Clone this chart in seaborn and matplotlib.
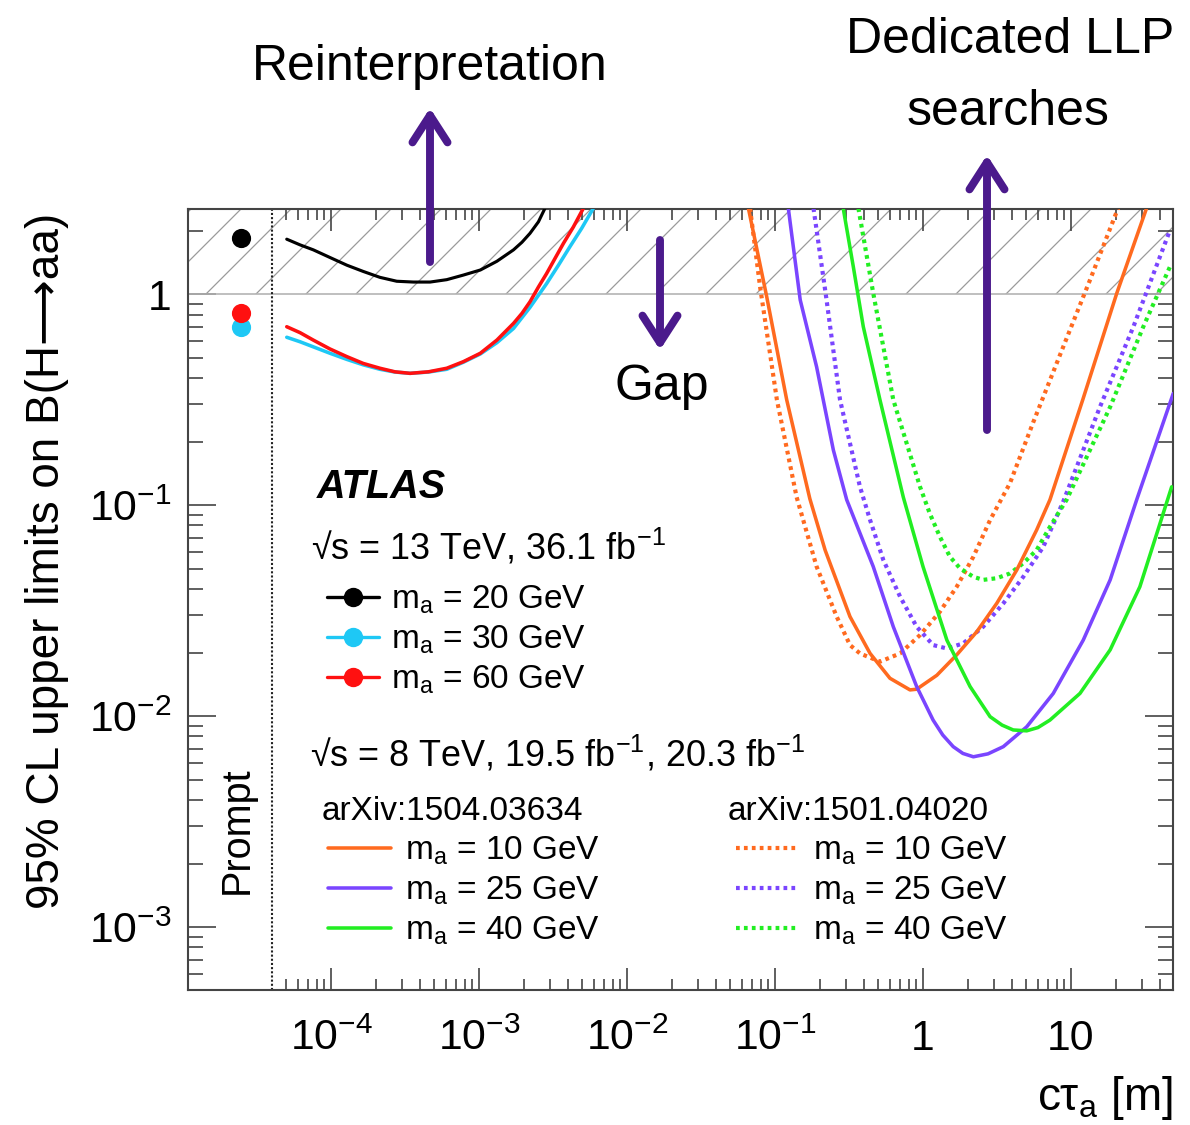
import matplotlib
matplotlib.use("Agg")
import matplotlib.pyplot as plt
import seaborn as sns
from matplotlib.lines import Line2D
from matplotlib.patches import FancyArrowPatch
from matplotlib.ticker import FixedLocator, FixedFormatter, NullFormatter
from matplotlib.transforms import blended_transform_factory

# ---------------- data ----------------
# prompt-search points (13 TeV)
prompt_x = 2.47e-5
prompt_20 = 1.85
prompt_30 = 0.70
prompt_60 = 0.81

# 13 TeV reinterpretation curves
ct_20 = [5.02e-5, 6.18e-5, 7.59e-5, 9.84e-5, 1.28e-4, 1.65e-4, 2.14e-4, 2.78e-4, 3.60e-4, 4.67e-4,
         6.05e-4, 7.83e-4, 1.02e-3, 1.32e-3, 1.71e-3, 1.95e-3, 2.21e-3, 2.52e-3, 2.79e-3]
lim_20 = [1.82, 1.71, 1.62, 1.49, 1.37, 1.28, 1.20, 1.15, 1.14, 1.14,
          1.17, 1.23, 1.30, 1.43, 1.62, 1.76, 1.94, 2.20, 2.55]

ct_30 = [5.02e-5, 6.18e-5, 7.59e-5, 9.84e-5, 1.28e-4, 1.65e-4, 2.14e-4, 2.70e-4, 3.42e-4, 4.55e-4,
         6.05e-4, 7.83e-4, 1.02e-3, 1.32e-3, 1.71e-3, 2.21e-3, 2.86e-3, 3.44e-3, 4.12e-3, 4.94e-3, 5.92e-3]
lim_30 = [0.624, 0.594, 0.562, 0.524, 0.490, 0.462, 0.440, 0.427, 0.421, 0.427,
          0.440, 0.475, 0.520, 0.588, 0.687, 0.865, 1.12, 1.37, 1.68, 2.05, 2.55]

ct_60 = [5.02e-5, 6.18e-5, 7.59e-5, 9.84e-5, 1.28e-4, 1.65e-4, 2.14e-4, 2.70e-4, 3.42e-4, 4.55e-4,
         6.05e-4, 7.83e-4, 1.02e-3, 1.32e-3, 1.71e-3, 1.95e-3, 2.21e-3, 2.52e-3, 2.86e-3, 3.27e-3,
         3.72e-3, 4.34e-3, 5.07e-3]
lim_60 = [0.700, 0.656, 0.605, 0.549, 0.505, 0.469, 0.445, 0.428, 0.421, 0.428,
          0.445, 0.478, 0.524, 0.605, 0.726, 0.810, 0.919, 1.08, 1.25, 1.48,
          1.74, 2.08, 2.55]

# 8 TeV, arXiv:1504.03634 (solid)
ct_10_s = [0.0661, 0.0879, 0.120, 0.172, 0.218, 0.321, 0.439, 0.598, 0.817, 0.906, 1.24, 1.69,
           2.31, 3.15, 4.30, 5.86, 7.21, 12.0, 20.4, 32.4]
lim_10_s = [2.55, 0.971, 0.315, 0.107, 0.0612, 0.0296, 0.0198, 0.0151, 0.0133, 0.0134, 0.0156, 0.0195,
            0.0251, 0.0342, 0.0492, 0.0762, 0.106, 0.315, 1.01, 2.55]

ct_25_s = [0.123, 0.148, 0.191, 0.248, 0.305, 0.461, 0.630, 0.906, 1.17, 1.36, 1.60, 1.86, 2.19, 2.75,
           3.49, 5.02, 7.59, 12.1, 18.4, 27.8, 49.1]
lim_25_s = [2.55, 0.938, 0.452, 0.182, 0.106, 0.0511, 0.0265, 0.0138, 0.00957, 0.00813, 0.00716, 0.00665,
            0.00641, 0.00662, 0.00716, 0.00889, 0.0128, 0.0229, 0.0442, 0.106, 0.338]

ct_40_s = [0.289, 0.338, 0.395, 0.512, 0.736, 1.00, 1.45, 2.08, 2.84, 3.42, 4.07, 5.02, 5.98, 7.21,
           11.5, 18.4, 29.2, 47.9]
lim_40_s = [2.55, 1.35, 0.700, 0.315, 0.109, 0.0511, 0.0229, 0.0138, 0.00993, 0.00906, 0.00859, 0.00851,
            0.00882, 0.00957, 0.0128, 0.0206, 0.0410, 0.122]

# 8 TeV, arXiv:1501.04020 (dotted)
ct_10_d = [0.0678, 0.0793, 0.103, 0.140, 0.191, 0.261, 0.321, 0.375, 0.512, 0.700, 0.955, 1.30,
           1.69, 2.19, 2.84, 3.87, 5.56, 9.35, 13.4, 20.8]
lim_10_d = [2.55, 1.08, 0.315, 0.109, 0.0511, 0.0296, 0.0217, 0.0198, 0.0181, 0.0198, 0.0242, 0.0312,
            0.0410, 0.0569, 0.0849, 0.127, 0.247, 0.618, 1.16, 2.55]

ct_25_d = [0.182, 0.223, 0.275, 0.375, 0.439, 0.540, 0.700, 0.906, 1.17, 1.45, 1.87, 2.55,
           3.49, 4.76, 6.50, 8.87, 15.7, 26.4, 46.7]
lim_25_d = [2.55, 0.938, 0.315, 0.122, 0.0849, 0.0548, 0.0368, 0.0265, 0.0217, 0.0209, 0.0221, 0.0265,
            0.0342, 0.0457, 0.0634, 0.104, 0.292, 0.700, 2.01]

ct_40_d = [0.366, 0.461, 0.630, 0.955, 1.11, 1.30, 1.52, 1.78, 2.19, 2.55, 3.15, 3.87,
           4.76, 5.86, 7.21, 9.35, 18.4, 30.8, 46.7]
lim_40_d = [2.55, 1.01, 0.315, 0.122, 0.0914, 0.0708, 0.0569, 0.0501, 0.0457, 0.0442, 0.0450, 0.0474,
            0.0530, 0.0612, 0.0789, 0.106, 0.292, 0.700, 1.35]

excluded_above = 1.0       # hatched band: B > 1
prompt_boundary = 4e-5     # dotted vertical line

x_ticks = [1e-4, 1e-3, 1e-2, 1e-1, 1, 10]
x_tick_labels = ["$10^{-4}$", "$10^{-3}$", "$10^{-2}$", "$10^{-1}$", "1", "10"]
y_ticks = [1e-3, 1e-2, 1e-1, 1]
y_tick_labels = ["$10^{-3}$", "$10^{-2}$", "$10^{-1}$", "1"]

labels_13 = ["m$_\\mathrm{a}$ = 20 GeV", "m$_\\mathrm{a}$ = 30 GeV", "m$_\\mathrm{a}$ = 60 GeV"]
labels_8 = ["m$_\\mathrm{a}$ = 10 GeV", "m$_\\mathrm{a}$ = 25 GeV", "m$_\\mathrm{a}$ = 40 GeV"]

# ---------------- style ----------------
sns.set_style("ticks")
plt.rcParams["font.family"] = ["Liberation Sans", "DejaVu Sans"]
plt.rcParams["mathtext.fontset"] = "custom"
plt.rcParams["mathtext.rm"] = "Liberation Sans"
plt.rcParams["mathtext.it"] = "Liberation Sans:italic"
plt.rcParams["mathtext.bf"] = "Liberation Sans:bold"
plt.rcParams["hatch.linewidth"] = 0.6
plt.rcParams["hatch.color"] = "#9a9a9a"
plt.rcParams["axes.edgecolor"] = "#444444"
plt.rcParams["axes.linewidth"] = 1.0
plt.rcParams["text.color"] = "black"
plt.rcParams["axes.labelcolor"] = "black"
plt.rcParams["xtick.labelcolor"] = "black"
plt.rcParams["ytick.labelcolor"] = "black"

BLACK = "#000000"
CYAN = "#1ec8f5"
RED = "#ff1010"
ORANGE = "#ff6a1f"
PURPLE = "#7a45ff"
GREEN = "#22ee22"
ARROW = "#4b1a8c"
DOT = (0, (0.9, 1.0))

DPI = 150
fig = plt.figure(figsize=(1190 / DPI, 1125 / DPI), dpi=DPI)
ax = fig.add_axes([188 / 1190, 1 - 990 / 1125, 985 / 1190, 781 / 1125])
ax.set_xscale("log")
ax.set_yscale("log")
ax.set_xlim(1.08e-5, 48.9)
ax.set_ylim(5.03e-4, 2.53)

# hatched excluded region
ax.axhspan(excluded_above, 10, facecolor="none", edgecolor="#9a9a9a", hatch="/", lw=0, zorder=0.5)
ax.axhline(excluded_above, color="#b4b4b4", lw=0.8, zorder=0.6)
ax.axvline(prompt_boundary, color="#222222", lw=1.0, linestyle=(0, (1, 1)), zorder=1)

curves = [
    (ct_20, lim_20, BLACK, "-", 1.5),
    (ct_30, lim_30, CYAN, "-", 1.7),
    (ct_60, lim_60, RED, "-", 1.7),
    (ct_10_d, lim_10_d, ORANGE, DOT, 2.0),
    (ct_25_d, lim_25_d, PURPLE, DOT, 2.0),
    (ct_40_d, lim_40_d, GREEN, DOT, 2.0),
    (ct_10_s, lim_10_s, ORANGE, "-", 1.7),
    (ct_25_s, lim_25_s, PURPLE, "-", 1.7),
    (ct_40_s, lim_40_s, GREEN, "-", 1.7),
]
for xs, ys, col, ls, lw in curves:
    sns.lineplot(x=xs, y=ys, ax=ax, color=col, linestyle=ls, lw=lw,
                 sort=False, estimator=None, legend=False, zorder=3)

for yv, col in [(prompt_20, BLACK), (prompt_30, CYAN), (prompt_60, RED)]:
    sns.scatterplot(x=[prompt_x], y=[yv], ax=ax, color=col, s=85, linewidth=0,
                    legend=False, zorder=4)

# ---------------- axes ----------------
minor_x = [k * 1e-5 for k in range(5, 10)] + [k * 10.0 ** d for d in range(-4, 2) for k in range(2, 10)]
minor_x = [v for v in minor_x if v < 48.9]
minor_y = [k * 10.0 ** d for d in range(-4, 1) for k in range(2, 10)]
minor_y = [v for v in minor_y if 5.03e-4 < v < 2.53]
ax.xaxis.set_major_locator(FixedLocator(x_ticks))
ax.xaxis.set_major_formatter(FixedFormatter(x_tick_labels))
ax.xaxis.set_minor_locator(FixedLocator(minor_x))
ax.xaxis.set_minor_formatter(NullFormatter())
ax.yaxis.set_major_locator(FixedLocator(y_ticks))
ax.yaxis.set_major_formatter(FixedFormatter(y_tick_labels))
ax.yaxis.set_minor_locator(FixedLocator(minor_y))
ax.yaxis.set_minor_formatter(NullFormatter())

ax.tick_params(which="both", direction="in", top=True, right=True, width=0.8, color="#444444",
               labelcolor="black")
ax.tick_params(axis="x", which="major", length=10.6, pad=28.8, labelsize=20.5)
ax.tick_params(axis="x", which="minor", length=5.3)
ax.tick_params(axis="y", which="major", length=13.4, pad=7.7, labelsize=20.5)
ax.tick_params(axis="y", which="minor", length=7.2)
for t in ax.get_xticklabels():
    t.set_verticalalignment("baseline")

ax.set_xlabel("c\u03c4$_\\mathrm{a}$ [m]", fontsize=22, loc="right")
ax.xaxis.set_label_coords(1.0, -0.108)
ax.set_ylabel("95% CL upper limits on B(H\u27f6aa)", fontsize=22, loc="top")
ax.yaxis.set_label_coords(-0.121, 0.995)

# ---------------- in-plot texts and legends ----------------
tr = blended_transform_factory(ax.transData, ax.transAxes)
ax.text(2.32e-5, 0.205, "Prompt", rotation=90, ha="center", va="center", fontsize=19, transform=tr)

ax.text(0.1307, 0.630, "ATLAS", fontsize=19, fontweight="bold", fontstyle="italic",
        transform=ax.transAxes, va="baseline")
ax.text(0.1246, 0.5506, "\u221as = 13 TeV, 36.1 fb$^{-1}$", fontsize=17.3,
        transform=ax.transAxes, va="baseline")
ax.text(0.1239, 0.2868, "\u221as = 8 TeV, 19.5 fb$^{-1}$, 20.3 fb$^{-1}$", fontsize=17.3,
        transform=ax.transAxes, va="baseline")
ax.text(0.1360, 0.2177, "arXiv:1504.03634", fontsize=16, transform=ax.transAxes, va="baseline")
ax.text(0.5482, 0.2177, "arXiv:1501.04020", fontsize=16, transform=ax.transAxes, va="baseline")

h13 = [Line2D([], [], color=c, lw=1.6, marker="o", markersize=9.3, markeredgewidth=0)
       for c in (BLACK, CYAN, RED)]
leg1 = ax.legend(h13, labels_13, loc="upper left", bbox_to_anchor=(0.1408, 0.5198),
                 frameon=False, prop={"size": 16}, handlelength=1.56, handletextpad=0.36,
                 labelspacing=0.215, borderpad=0, borderaxespad=0)
ax.add_artist(leg1)

h8s = [Line2D([], [], color=c, lw=1.7) for c in (ORANGE, PURPLE, GREEN)]
leg2 = ax.legend(h8s, labels_8, loc="upper left", bbox_to_anchor=(0.1419, 0.1984),
                 frameon=False, prop={"size": 16}, handlelength=1.9, handletextpad=0.42,
                 labelspacing=0.215, borderpad=0, borderaxespad=0)
ax.add_artist(leg2)

h8d = [Line2D([], [], color=c, lw=2.0, linestyle=DOT) for c in (ORANGE, PURPLE, GREEN)]
ax.legend(h8d, labels_8, loc="upper left", bbox_to_anchor=(0.5563, 0.1984),
          frameon=False, prop={"size": 16}, handlelength=1.9, handletextpad=0.42,
          labelspacing=0.215, borderpad=0, borderaxespad=0)

# ---------------- annotations around the figure ----------------
def fx(px):
    return px / 1190

def fy(py):
    return 1 - py / 1125

fig.text(fx(430), fy(80), "Reinterpretation", ha="center", va="baseline", fontsize=24)
fig.text(fx(1010), fy(53), "Dedicated LLP", ha="center", va="baseline", fontsize=24)
fig.text(fx(1008), fy(125), "searches", ha="center", va="baseline", fontsize=24)
fig.text(fx(662), fy(400), "Gap", ha="center", va="baseline", fontsize=24)

for x0, ytail, ytip in [(430, 262, 108), (660, 240, 350), (987, 430, 155)]:
    arr = FancyArrowPatch((fx(x0), fy(ytail)), (fx(x0), fy(ytip)), transform=fig.transFigure,
                          arrowstyle="->,head_length=0.65,head_width=0.42", mutation_scale=20,
                          lw=3.8, color=ARROW, shrinkA=0, shrinkB=0)
    fig.add_artist(arr)

fig.savefig("out.png", dpi=DPI)
